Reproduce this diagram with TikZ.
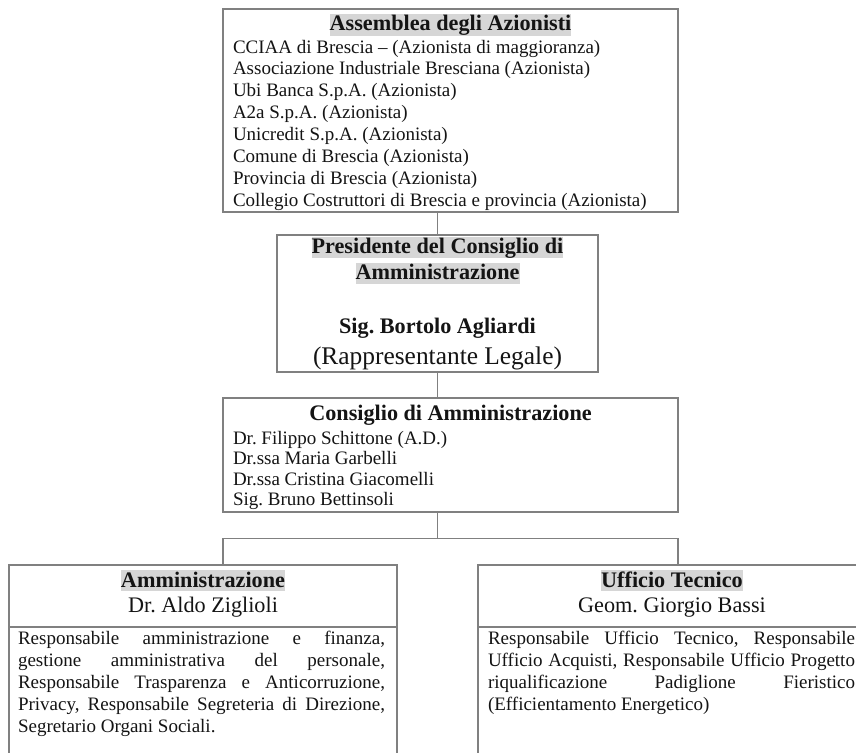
\documentclass[tikz,border=0pt]{standalone}
\usepackage{fontspec}
\setmainfont{Liberation Serif}[Ligatures=NoCommon]
\frenchspacing
\definecolor{linegray}{RGB}{128,128,128}
\definecolor{hlgray}{RGB}{214,214,214}
\definecolor{ink}{RGB}{20,20,20}
\newcommand\hlbox[1]{{\setlength{\fboxsep}{0pt}\colorbox{hlgray}{\rule[-0.2em]{0pt}{0.96em}#1}}}
\tikzset{
 boxframe/.style={draw=linegray, line width=1.3pt, rectangle, inner sep=0pt, outer sep=0pt},
 conn/.style={draw=linegray, line width=1.3pt},
 txt/.style={inner sep=0pt, outer sep=0pt, text=ink},
 bodyline/.style={txt, font={\fontsize{19.0}{22}\selectfont\frenchspacing}},
 ttlline/.style={txt, font={\fontsize{22.2}{25.8}\selectfont\bfseries\frenchspacing}},
 subline/.style={txt, font={\fontsize{22.2}{25.8}\selectfont\frenchspacing}},
 bigline/.style={txt, font={\fontsize{25.4}{29.4}\selectfont\frenchspacing}},
}
\begin{document}
\begin{tikzpicture}[x=1pt,y=-1pt]
\useasboundingbox (0,0) rectangle (856,752);
\fill[white] (0,0) rectangle (856,752);
\clip (0,0) rectangle (856,752);
% boxes
\node[boxframe, minimum width=455pt, minimum height=203pt] (assem) at (450.5,110.5) {};
\node[boxframe, minimum width=321pt, minimum height=137pt] (pres) at (437.5,303.5) {};
\node[boxframe, minimum width=455pt, minimum height=114pt] (cons) at (450.5,455) {};
\node[boxframe, minimum width=388pt, minimum height=62pt] (ammh) at (203,596) {};
\node[boxframe, minimum width=388pt, minimum height=133pt] (ammb) at (203,693.5) {};
\node[boxframe, minimum width=388pt, minimum height=62pt] (uffh) at (672,596) {};
\node[boxframe, minimum width=388pt, minimum height=133pt] (uffb) at (672,693.5) {};
% connectors
\draw[conn] (pres.north) -- (pres.north |- assem.south);
\draw[conn] (pres.south) -- (pres.south |- cons.north);
\coordinate (busC) at (437.5,538.5);
\coordinate (busL) at (223,538.5);
\coordinate (busR) at (678,538.5);
\draw[conn] (pres.south |- cons.south) -- (busC);
\draw[conn] (busL |- ammh.north) -- (busL) -- (busR) -- (busR |- uffh.north);
% assemblea text
\node[ttlline, anchor=base] (assemT) at (450.5,31) {\hlbox{Assemblea degli Azionisti}};
\foreach \t [count=\i from 0] in {
 CCIAA di Brescia \textendash{} (Azionista di maggioranza),
 Associazione Industriale Bresciana (Azionista),
 Ubi Banca S.p.A. (Azionista),
 A2a S.p.A. (Azionista),
 Unicredit S.p.A. (Azionista),
 Comune di Brescia (Azionista),
 Provincia di Brescia (Azionista),
 Collegio Costruttori di Brescia e provincia (Azionista)}
 \node[bodyline, anchor=base west] (assemL\i) at (233,53+21.9*\i) {\t};
% presidente text
\node[ttlline, anchor=base] (presT1) at (437.5,253.5) {\hlbox{Presidente del Consiglio di}};
\node[ttlline, anchor=base] (presT2) at (437.5,279.5) {\hlbox{Amministrazione}};
\node[ttlline, anchor=base] (presN) at (437.5,333) {Sig. Bortolo Agliardi};
\node[bigline, anchor=base] (presR) at (437.5,364) {(Rappresentante Legale)};
% consiglio text
\node[ttlline, anchor=base] (consT) at (450.5,420) {Consiglio di Amministrazione};
\foreach \t [count=\i from 0] in {
 Dr. Filippo Schittone (A.D.),
 Dr.ssa Maria Garbelli,
 Dr.ssa Cristina Giacomelli,
 Sig. Bruno Bettinsoli}
 \node[bodyline, anchor=base west] (consL\i) at (233,444.5+20.3*\i) {\t};
% amministrazione
\node[ttlline, anchor=base] (ammT) at (203,587) {\hlbox{Amministrazione}};
\node[subline, anchor=base] (ammN) at (203,612.5) {Dr. Aldo Ziglioli};
\node[bodyline, anchor=base west] (ammL0) at (18,644) {\makebox[367pt][s]{Responsabile amministrazione e finanza,}};
\node[bodyline, anchor=base west] (ammL1) at (18,666) {\makebox[367pt][s]{gestione amministrativa del personale,}};
\node[bodyline, anchor=base west] (ammL2) at (18,688) {\makebox[367pt][s]{Responsabile Trasparenza e Anticorruzione,}};
\node[bodyline, anchor=base west] (ammL3) at (18,710) {\makebox[367pt][s]{Privacy, Responsabile Segreteria di Direzione,}};
\node[bodyline, anchor=base west] (ammL4) at (18,732) {Segretario Organi Sociali.};
% ufficio tecnico
\node[ttlline, anchor=base] (uffT) at (672,587) {\hlbox{Ufficio Tecnico}};
\node[subline, anchor=base] (uffN) at (672,612.5) {Geom. Giorgio Bassi};
\node[bodyline, anchor=base west] (uffL0) at (488,644) {\makebox[367pt][s]{Responsabile Ufficio Tecnico, Responsabile}};
\node[bodyline, anchor=base west] (uffL1) at (488,666) {\makebox[367pt][s]{Ufficio Acquisti, Responsabile Ufficio Progetto}};
\node[bodyline, anchor=base west] (uffL2) at (488,688) {\makebox[367pt][s]{riqualificazione Padiglione Fieristico}};
\node[bodyline, anchor=base west] (uffL3) at (488,710) {(Efficientamento Energetico)};
\end{tikzpicture}
\end{document}
